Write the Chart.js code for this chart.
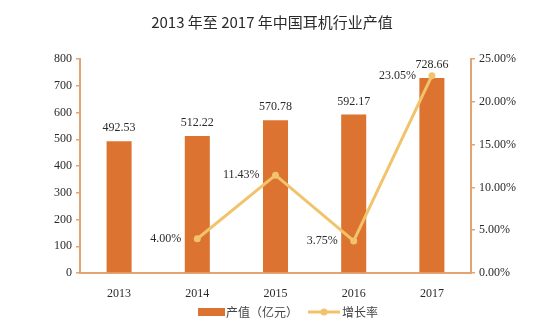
<!DOCTYPE html>
<html>
<head>
<meta charset="utf-8">
<script src="https://cdn.jsdelivr.net/npm/chart.js@4/dist/chart.umd.min.js"></script>
<style>
  html, body { margin: 0; padding: 0; background: #ffffff; }
  #wrap { width: 544px; height: 326px; position: relative; }
</style>
</head>
<body>
<div id="wrap"><canvas id="c" width="544" height="326"></canvas></div>
<script>
// Headphone industry output value in China, 2013-2017
const years = ['2013', '2014', '2015', '2016', '2017'];
const outputValue = [492.53, 512.22, 570.78, 592.17, 728.66];   // 亿元
const growthRate = [null, 4.00, 11.43, 3.75, 23.05];             // %
const leftTicks = [0, 100, 200, 300, 400, 500, 600, 700, 800];
const rightTicks = [0, 5, 10, 15, 20, 25];

const titleText = '2013 年至 2017 年中国耳机行业产值';
const barLabel = '产值（亿元）';
const lineLabel = '增长率';

const BAR = '#dc7330';
const LINE = '#f1c36a';
const AXIS = '#e3a472';
const TXT = '#2a2a2a';
const SERIF = '"Liberation Serif", "DejaVu Serif", serif';
const CJK = '"Noto Sans CJK SC", sans-serif';

const decor = {
  id: 'decor',
  afterDatasetsDraw(chart) {
    const ctx = chart.ctx;
    ctx.save();
    // title
    ctx.fillStyle = TXT;
    ctx.font = '15px ' + CJK;
    ctx.textAlign = 'center';
    ctx.textBaseline = 'middle';
    ctx.fillText(titleText, 272, 22);

    // bar value labels
    ctx.font = '12px ' + SERIF;
    const barMeta = chart.getDatasetMeta(0);
    barMeta.data.forEach((bar, i) => {
      ctx.textAlign = 'center';
      ctx.fillText(outputValue[i].toFixed(2), bar.x, bar.y - 13);
    });

    // growth-rate labels to the left of each point
    const lineMeta = chart.getDatasetMeta(1);
    lineMeta.data.forEach((pt, i) => {
      if (growthRate[i] == null) return;
      ctx.textAlign = 'right';
      ctx.fillText(growthRate[i].toFixed(2) + '%', pt.x - 16, pt.y);
    });

    // legend
    const ly = 312;
    ctx.fillStyle = BAR;
    ctx.fillRect(198, ly - 4, 27, 8);
    ctx.fillStyle = '#444';
    ctx.font = '12px ' + CJK;
    ctx.textAlign = 'left';
    ctx.fillText(barLabel, 226, ly);
    ctx.strokeStyle = LINE;
    ctx.lineWidth = 3;
    ctx.beginPath();
    ctx.moveTo(308, ly);
    ctx.lineTo(340, ly);
    ctx.stroke();
    ctx.fillStyle = LINE;
    ctx.beginPath();
    ctx.arc(324, ly, 3.5, 0, Math.PI * 2);
    ctx.fill();
    ctx.fillStyle = '#444';
    ctx.fillText(lineLabel, 342, ly);
    ctx.restore();
  }
};

new Chart(document.getElementById('c'), {
  data: {
    labels: years,
    datasets: [
      {
        type: 'bar',
        label: barLabel,
        data: outputValue,
        backgroundColor: BAR,
        categoryPercentage: 1,
        barPercentage: 0.32,
        yAxisID: 'y',
        order: 2
      },
      {
        type: 'line',
        label: lineLabel,
        data: growthRate,
        borderColor: LINE,
        backgroundColor: LINE,
        borderWidth: 3,
        pointRadius: 3.5,
        pointBackgroundColor: LINE,
        pointBorderWidth: 0,
        tension: 0,
        yAxisID: 'y1',
        order: 1
      }
    ]
  },
  options: {
    responsive: false,
    animation: false,
    layout: { padding: { top: 59, right: 0, bottom: 0, left: 0 } },
    plugins: {
      legend: { display: false },
      title: { display: false },
      tooltip: { enabled: false }
    },
    scales: {
      x: {
        grid: { display: false },
        border: { display: true, color: AXIS, width: 2 },
        ticks: { color: TXT, font: { family: SERIF, size: 12 }, padding: 6 },
        afterFit(s) { s.height = 53; }
      },
      y: {
        position: 'left',
        min: 0,
        max: 800,
        afterBuildTicks(s) { s.ticks = leftTicks.map(v => ({ value: v })); },
        grid: { display: true, drawOnChartArea: false, drawTicks: true, tickLength: 4, color: AXIS, lineWidth: 1.5 },
        border: { display: true, color: AXIS, width: 2 },
        ticks: { color: TXT, font: { family: SERIF, size: 12 }, padding: 4 },
        afterFit(s) { s.width = 80; }
      },
      y1: {
        position: 'right',
        min: 0,
        max: 25,
        afterBuildTicks(s) { s.ticks = rightTicks.map(v => ({ value: v })); },
        grid: { display: true, drawOnChartArea: false, drawTicks: true, tickLength: 4, color: AXIS, lineWidth: 1.5 },
        border: { display: true, color: AXIS, width: 2 },
        ticks: {
          color: TXT,
          font: { family: SERIF, size: 12 },
          padding: 4,
          callback: v => v.toFixed(2) + '%'
        },
        afterFit(s) { s.width = 73; }
      }
    }
  },
  plugins: [decor]
});
</script>
</body>
</html>
